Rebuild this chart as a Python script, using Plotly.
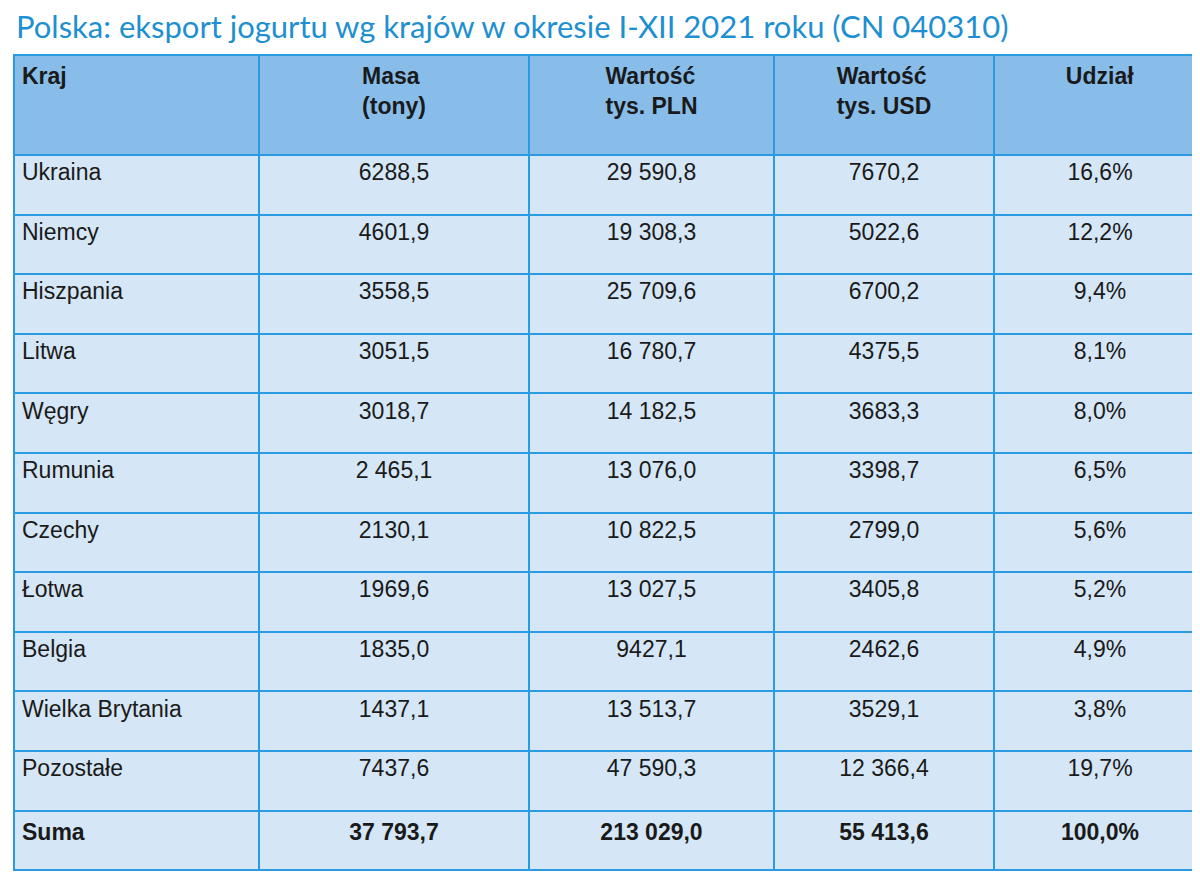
import plotly.graph_objects as go

headers = ["<br>Kraj", "Masa<br>(tony)", "Wartość<br>tys. PLN", "Wartość<br>tys. USD", "<br>Udział"]
kraje = ["Ukraina", "Niemcy", "Hiszpania", "Litwa", "Węgry", "Rumunia", "Czechy", "Łotwa",
         "Belgia", "Wielka Brytania", "Pozostałe", "<b>Suma</b>"]
masa = ["6288,5", "4601,9", "3558,5", "3051,5", "3018,7", "2 465,1", "2130,1", "1969,6",
        "1835,0", "1437,1", "7437,6", "<b>37 793,7</b>"]
pln = ["29 590,8", "19 308,3", "25 709,6", "16 780,7", "14 182,5", "13 076,0", "10 822,5",
       "13 027,5", "9427,1", "13 513,7", "47 590,3", "<b>213 029,0</b>"]
usd = ["7670,2", "5022,6", "6700,2", "4375,5", "3683,3", "3398,7", "2799,0", "3405,8",
       "2462,6", "3529,1", "12 366,4", "<b>55 413,6</b>"]
udzial = ["16,6%", "12,2%", "9,4%", "8,1%", "8,0%", "6,5%", "5,6%", "5,2%", "4,9%",
          "3,8%", "19,7%", "<b>100,0%</b>"]

line_c = "#2a9be0"
fig = go.Figure(go.Table(
    columnwidth=[245, 270, 245, 220, 212],
    header=dict(values=[f"<b>{h}</b>" for h in headers],
                fill_color="#88bdea", line=dict(color=line_c, width=2),
                align=["left", "center", "center", "center", "center"],
                font=dict(family="Liberation Sans, Arial", size=23, color="#1a1a1a"),
                height=100),
    cells=dict(values=[kraje, masa, pln, usd, udzial],
               fill_color="#d5e6f6", line=dict(color=line_c, width=2),
               align=["left", "center", "center", "center", "center"],
               font=dict(family="Liberation Sans, Arial", size=23, color="#1a1a1a"),
               height=59.6),
))
fig.update_layout(
    width=1200, height=885, paper_bgcolor="white",
    margin=dict(l=6, r=2, t=47, b=5),
    annotations=[dict(text="Polska: eksport jogurtu wg krajów w okresie I-XII 2021 roku (CN 040310)",
                      xref="paper", yref="paper", x=0, y=1, xanchor="left", yanchor="bottom",
                      yshift=8, showarrow=False,
                      font=dict(family="Lato", size=31, color="#1e8fd0"))],
)
fig.write_html("out.html")
